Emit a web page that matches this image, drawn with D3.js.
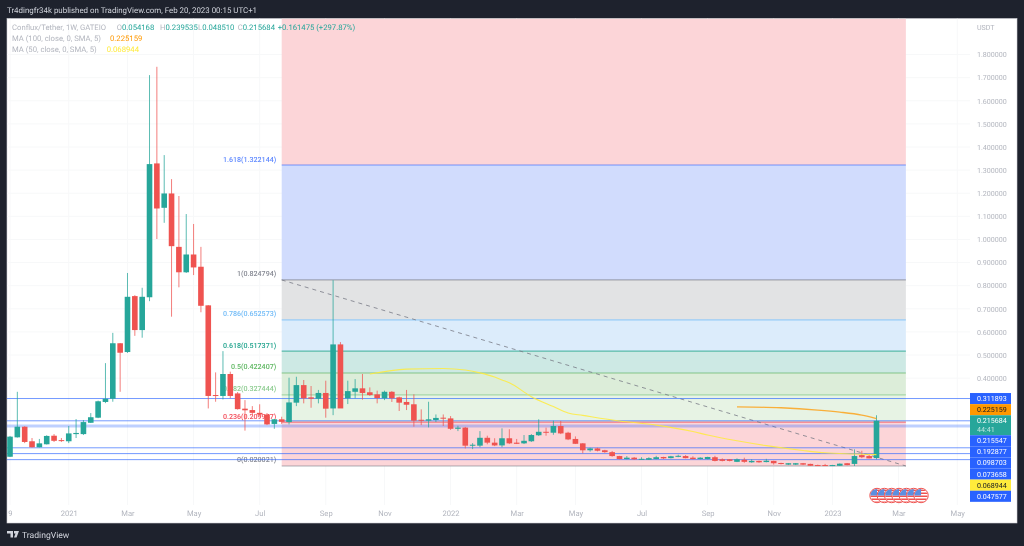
<!DOCTYPE html>
<html>
<head>
<meta charset="utf-8">
<script src="https://d3js.org/d3.v7.min.js"></script>
<style>
html,body{margin:0;padding:0;background:#1e222d;overflow:hidden}
svg{display:block;filter:blur(0.4px)}
text{font-family:Roboto,"Open Sans",sans-serif;text-rendering:geometricPrecision}
</style>
</head>
<body>
<div id="chart"></div>
<script>
const opens = [.060,.144,.190,.127,.101,.114,.151,.132,.127,.158,.158,.207,.229,.297,.311,.551,.513,.755,.608,.750,1.329,1.137,1.199,.968,.858,.935,.882,.715,.327,.323,.418,.334,.268,.262,.250,.243,.202,.222,.210,.294,.370,.317,.311,.336,.269,.546,.313,.341,.356,.339,.330,.313,.341,.317,.297,.287,.220,.216,.219,.229,.226,.181,.186,.108,.108,.142,.121,.109,.140,.121,.118,.127,.153,.168,.164,.193,.164,.137,.118,.088,.096,.088,.080,.063,.050,.056,.049,.047,.050,.059,.054,.060,.063,.056,.050,.050,.058,.049,.049,.038,.047,.036,.042,.037,.042,.033,.026,.026,.032,.029,.024,.024,.021,.021,.032,.029,.067,.063,.054168];
const highs = [.150,.341,.192,.141,.137,.153,.158,.141,.193,.223,.219,.249,.303,.465,.596,.552,.855,.759,.791,1.711,1.747,1.365,1.261,1.188,1.110,1.067,.968,.716,.425,.517,.428,.340,.305,.279,.287,.249,.223,.233,.402,.406,.392,.366,.349,.389,.824,.556,.389,.396,.418,.360,.346,.346,.344,.320,.349,.330,.265,.298,.243,.243,.236,.194,.189,.119,.171,.151,.140,.183,.179,.137,.154,.158,.222,.186,.216,.215,.168,.148,.119,.099,.099,.090,.085,.064,.063,.059,.058,.058,.064,.060,.064,.069,.067,.062,.058,.060,.064,.053,.050,.053,.056,.049,.043,.051,.043,.034,.033,.033,.033,.030,.026,.029,.025,.031,.033,.092,.086,.071,.239535];
const lows = [.059,.143,.119,.100,.100,.113,.124,.124,.119,.141,.154,.206,.227,.292,.298,.341,.509,.583,.575,.733,1.002,1.072,.666,.793,.855,.846,.685,.269,.298,.308,.313,.264,.173,.245,.236,.197,.181,.202,.200,.279,.291,.272,.291,.229,.240,.288,.288,.313,.307,.323,.291,.305,.297,.258,.262,.190,.197,.187,.210,.193,.176,.171,.096,.093,.101,.114,.106,.101,.115,.115,.115,.124,.150,.151,.155,.158,.132,.115,.075,.082,.083,.077,.060,.049,.049,.047,.046,.046,.049,.050,.053,.058,.053,.049,.049,.049,.040,.040,.040,.037,.034,.034,.034,.036,.026,.027,.024,.024,.024,.020,.020,.020,.020,.020,.023,.020,.054,.053,.048510];
const closes = [.147,.190,.124,.101,.118,.150,.129,.128,.161,.163,.210,.231,.300,.311,.551,.510,.752,.608,.752,1.326,1.134,1.199,.971,.858,.935,.879,.713,.323,.323,.418,.323,.266,.261,.250,.243,.200,.222,.211,.295,.370,.313,.311,.336,.268,.546,.269,.344,.356,.336,.327,.314,.341,.313,.294,.285,.216,.218,.222,.228,.226,.181,.186,.108,.112,.142,.121,.109,.140,.118,.116,.129,.154,.168,.166,.193,.161,.135,.116,.088,.096,.086,.080,.063,.050,.056,.049,.051,.054,.058,.053,.062,.064,.054,.050,.056,.059,.042,.042,.042,.049,.038,.042,.036,.043,.032,.029,.032,.032,.026,.021,.021,.020,.024,.030,.024,.063,.058,.053,.215684];

const ma50Weeks = [49,54,59,62,64,66,67,68,71,74,76,78,83,88,93,95,99,103,108,111,115,118];
const ma50Values = [.418,.439,.442,.435,.423,.405,.392,.380,.320,.277,.249,.239,.215,.197,.169,.154,.129,.108,.087,.077,.072,.068944];
const ma100Weeks = [99,105,110,113,116,118];
const ma100Values = [.276,.272,.262,.253,.240,.225159];

const fibRatios = ['1.618','1','0.786','0.618','0.5','0.382','0.236','0'];
const fibPrices = [1.322144,.824794,.652573,.517371,.422407,.327444,.209947,.020021];
const fibColors = ['#2962ff','#787b86','#64b5f6','#089981','#4caf50','#81c784','#f23645','#787b86'];
const fibFills = ['#d1dcfd','#e2e3e4','#dcecfb','#cde9e4','#dcedd9','#e7f3e4','#fcd5d8'];
const fibStartWeek = 37;
const fibEndWeek = 122;

const priceLines = [.311893,.215547,.192877,.098703,.073658,.047577];

const priceTicks = [.4,.5,.6,.7,.8,.9,1,1.1,1.2,1.3,1.4,1.5,1.6,1.7,1.8];
const timeWeeks = [0,8,16,25,34,43,51,60,69,77,86,95,104,112,121,129];
const timeLabels = ['9','2021','Mar','May','Jul','Sep','Nov','2022','Mar','May','Jul','Sep','Nov','2023','Mar','May'];

const tagValues = ['0.311893','0.225159','0.215684','0.215547','0.192877','0.098703','0.073658','0.068944','0.047577'];
const tagColors = ['#2962ff','#ff9800','#26a69a','#2962ff','#2962ff','#2962ff','#2962ff','#ffeb3b','#2962ff'];
const tagInk = ['#fff','#131722','#fff','#fff','#fff','#fff','#fff','#131722','#fff'];

const flagWeeks = [118,119,120,121,122,123,124];

const ohlcLetters = ['O','H','L','C'];
const ohlcValues = ['0.054168','0.239535','0.048510','0.215684'];

const margin = {'top':18.5,'right':54,'bottom':43,'left':7};
const width = 1024, height = 546;
const paneRight = 970, paneBottom = 505;
const green = '#26a69a', red = '#ef5350';

var x = d3.scaleLinear().domain([0,118]).range([10,876.5]);
var y = d3.scaleLinear().domain([.02,1.322144]).range([466,165]);

var svg = d3.select('#chart').append('svg').attr('width',width).attr('height',height);
var defs = svg.append('defs');
defs.append('clipPath').attr('id','pane').append('rect')
    .attr('x',margin.left).attr('y',margin.top).attr('width',paneRight-margin.left).attr('height',paneBottom-margin.top);

// white sheet
svg.append('rect').attr('x',margin.left).attr('y',margin.top)
   .attr('width',1017-margin.left).attr('height',523-margin.top)
   .attr('fill','#fff').attr('stroke','#cfd1d6').attr('stroke-width',.6);

svg.append('text').attr('x',7).attr('y',12.8).attr('fill','#d1d4dc').attr('font-size',7.9)
   .text('Tr4dingfr34k published on TradingView.com, Feb 20, 2023 00:15 UTC+1');

var plot = svg.append('g').attr('clip-path','url(#pane)');

// grid
plot.append('g').selectAll('line').data(priceTicks).join('line')
    .attr('x1',margin.left).attr('x2',paneRight).attr('y1',d=>y(d)).attr('y2',d=>y(d)).attr('stroke','#f7f8f9');
plot.append('g').selectAll('line').data(timeWeeks).join('line')
    .attr('x1',d=>x(d)).attr('x2',d=>x(d)).attr('y1',margin.top).attr('y2',paneBottom).attr('stroke','#f7f8f9');

// fib zones
var fibLeft = x(fibStartWeek), fibRight = x(fibEndWeek);
plot.append('rect').attr('x',fibLeft).attr('y',margin.top).attr('width',fibRight-fibLeft)
    .attr('height',y(fibPrices[0])-margin.top).attr('fill','#fcd5d8');
plot.append('g').selectAll('rect').data(fibFills).join('rect')
    .attr('x',fibLeft).attr('width',fibRight-fibLeft)
    .attr('y',(d,i)=>y(fibPrices[i])).attr('height',(d,i)=>y(fibPrices[i+1])-y(fibPrices[i]))
    .attr('fill',d=>d);
plot.append('g').selectAll('line').data(fibPrices).join('line')
    .attr('x1',fibLeft).attr('x2',fibRight).attr('y1',d=>y(d)).attr('y2',d=>y(d))
    .attr('stroke',(d,i)=>fibColors[i]).attr('stroke-opacity',.6).attr('stroke-width',1.2);
plot.append('g').selectAll('text').data(fibPrices).join('text')
    .attr('x',fibLeft-5.5).attr('y',d=>y(d)-3.5).attr('text-anchor','end')
    .attr('font-size',7.1).attr('font-weight',500).attr('fill',(d,i)=>fibColors[i])
    .attr('fill-opacity',(d,i)=>i==0?.75:.9)
    .text((d,i)=>fibRatios[i]+'('+d.toFixed(6)+')');
plot.append('line').attr('x1',fibLeft).attr('y1',y(fibPrices[1])).attr('x2',fibRight).attr('y2',y(fibPrices[7]))
    .attr('stroke','#787b86').attr('stroke-dasharray','4 4').attr('stroke-opacity',.8);

// horizontal price lines
plot.append('g').selectAll('line').data(priceLines).join('line')
    .attr('x1',margin.left).attr('x2',paneRight).attr('y1',d=>y(d)).attr('y2',d=>y(d))
    .attr('stroke','#2962ff').attr('stroke-opacity',d=>d==.192877?.3:.65).attr('stroke-width',d=>d==.192877?3:1);

// candles
var candles = plot.append('g').selectAll('g').data(opens).join('g');
candles.append('line')
    .attr('x1',(d,i)=>x(i)).attr('x2',(d,i)=>x(i))
    .attr('y1',(d,i)=>y(highs[i])).attr('y2',(d,i)=>y(lows[i]))
    .attr('stroke',(d,i)=>closes[i]>=d?green:red).attr('stroke-opacity',.75);
candles.append('rect')
    .attr('x',(d,i)=>x(i)-2.8).attr('width',5.6)
    .attr('y',(d,i)=>y(Math.max(d,closes[i])))
    .attr('height',(d,i)=>Math.max(1,Math.abs(y(d)-y(closes[i]))))
    .attr('fill',(d,i)=>closes[i]>=d?green:red);

// moving averages
var maLine = d3.line().x(d=>x(d[0])).y(d=>y(d[1])).curve(d3.curveMonotoneX);
plot.append('path').attr('d',maLine(d3.zip(ma50Weeks,ma50Values)))
    .attr('fill','none').attr('stroke','#ffeb3b').attr('stroke-width',1.1).attr('stroke-opacity',.85);
plot.append('path').attr('d',maLine(d3.zip(ma100Weeks,ma100Values)))
    .attr('fill','none').attr('stroke','#ff9800').attr('stroke-width',1.3).attr('stroke-opacity',.75);

// flags
defs.append('clipPath').attr('id','flagClip').append('circle').attr('r',6.6);
var flags = svg.append('g').selectAll('g').data(flagWeeks).join('g')
    .attr('transform',d=>`translate(${x(d)+.5},495.5)`);
flags.append('circle').attr('r',7.2).attr('fill','#fff').attr('stroke','#ef5350').attr('stroke-width',1);
flags.each(function(){
    var g = d3.select(this).append('g').attr('clip-path','url(#flagClip)');
    d3.range(-6,7,3).forEach(s => g.append('rect').attr('x',-7).attr('y',s).attr('width',14).attr('height',1.5).attr('fill','#ef5350'));
    g.append('rect').attr('x',-7).attr('y',-7).attr('width',7).attr('height',7).attr('fill','#5b8fe0');
});

// axes
var yAxis = d3.axisRight(y).tickValues(priceTicks).tickFormat(d3.format('.6f')).tickSize(0).tickPadding(0);
var yg = svg.append('g').attr('transform',`translate(977,0)`).call(yAxis);
yg.select('.domain').remove();
yg.selectAll('text').attr('font-size',7.1).attr('fill','#b2b5be').style('font-family','Roboto');

var xAxis = d3.axisBottom(x).tickValues(timeWeeks).tickFormat((d,i)=>timeLabels[i]).tickSize(0).tickPadding(0);
var xg = svg.append('g').attr('transform',`translate(0,511)`).call(xAxis);
xg.select('.domain').remove();
xg.selectAll('text').attr('font-size',7.6).attr('fill','#b2b5be').style('font-family','Roboto');

svg.append('text').attr('x',977).attr('y',29.5).attr('font-size',7.1).attr('fill','#b2b5be').text('USDT');

// price tags, stacked from the top one down
var cursor = y(.311893)-5.5;
tagValues.forEach(function(t,i){
    var h = t=='0.215684' ? 20 : 11.1;
    svg.append('rect').attr('x',970).attr('y',cursor).attr('width',41).attr('height',h).attr('fill',tagColors[i]);
    svg.append('text').attr('x',977).attr('y',cursor+8).attr('font-size',7.1).attr('fill',tagInk[i]).text(t);
    if(h>12) svg.append('text').attr('x',977).attr('y',cursor+17).attr('font-size',7.1).attr('fill','#fff').attr('fill-opacity',.7).text('44:41');
    cursor += h;
});

// legend
var legend = svg.append('g').attr('font-size',7.7);
legend.append('text').attr('x',12).attr('y',29.5).attr('fill','#b2b5be').text('Conflux/Tether, 1W, GATEIO');
[116.7,160,198,237.7].forEach(function(lx,i){
    var t = legend.append('text').attr('x',lx).attr('y',29.5);
    t.append('tspan').attr('fill','#b2b5be').text(ohlcLetters[i]);
    t.append('tspan').attr('fill',green).text(ohlcValues[i]);
});
legend.append('text').attr('x',277.7).attr('y',29.5).attr('fill',green).text('+0.161475 (+297.87%)');
legend.append('text').attr('x',12).attr('y',41).attr('fill','#b2b5be').text('MA (100, close, 0, SMA, 5)');
legend.append('text').attr('x',110).attr('y',41).attr('fill','#ff9800').text('0.225159');
legend.append('text').attr('x',12).attr('y',52).attr('fill','#b2b5be').text('MA (50, close, 0, SMA, 5)');
legend.append('text').attr('x',106.7).attr('y',52).attr('fill','#ffeb3b').text('0.068944');

// footer
svg.append('path').attr('d','M7 531h6v6.5h-2.5v-4H7zM14 531h5l-2.5 6.5h-2.5l1.5-4h-1.5z')
   .attr('fill','#d1d4dc');
svg.append('text').attr('x',22).attr('y',537.5).attr('font-size',8.6).attr('fill','#d1d4dc').text('TradingView');
</script>
</body>
</html>
